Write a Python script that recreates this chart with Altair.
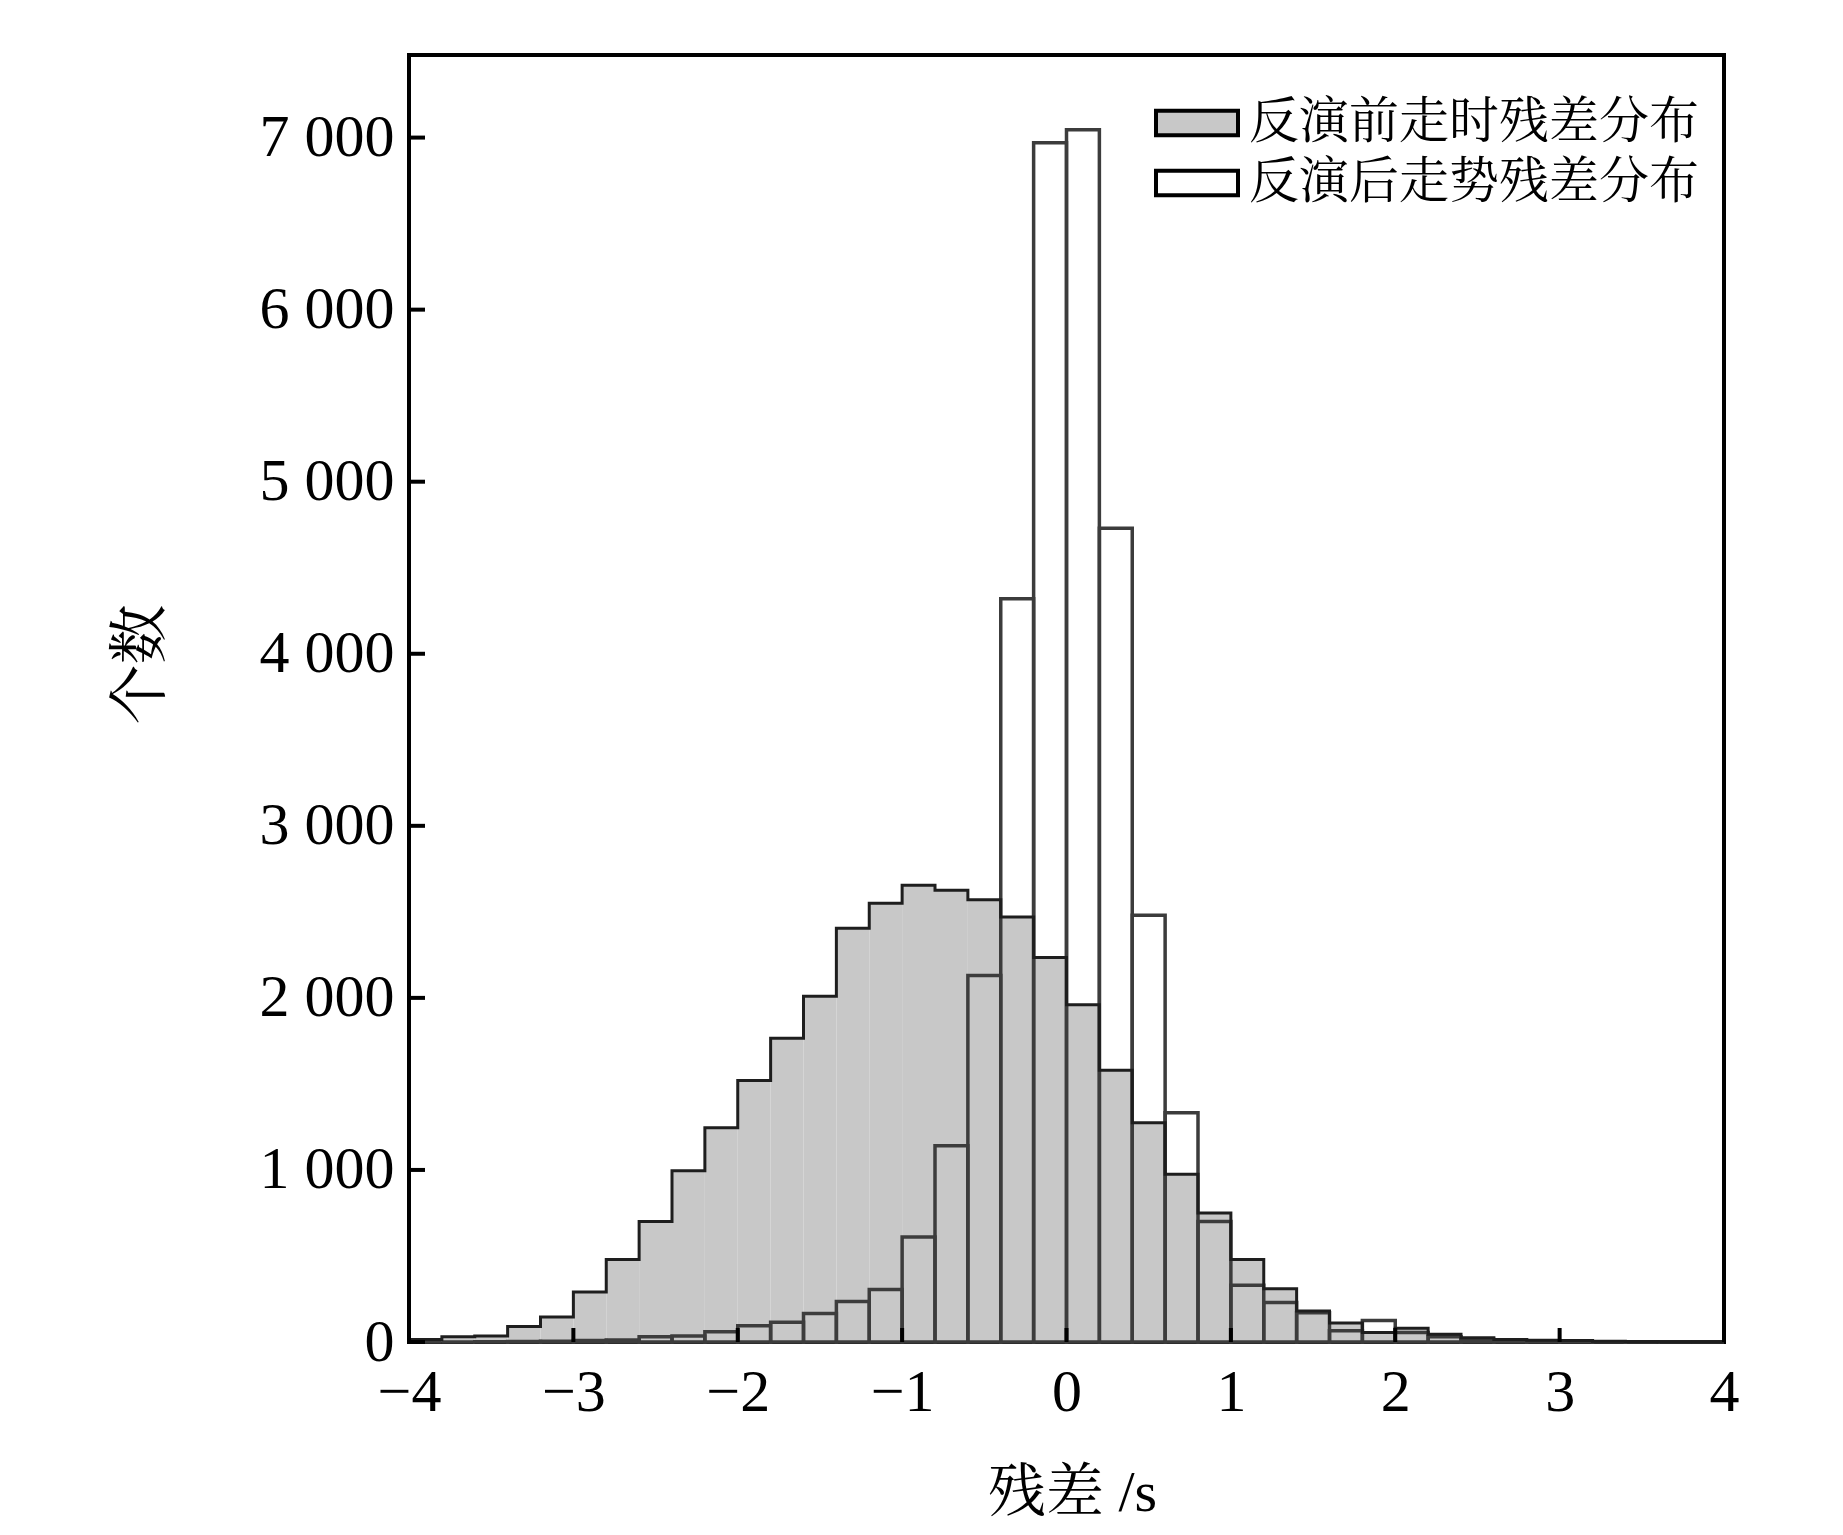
import altair as alt
import pandas as pd

# bin edges (s)
bin_start = [-4.0, -3.8, -3.6, -3.4, -3.2, -3.0, -2.8, -2.6, -2.4, -2.2,
             -2.0, -1.8, -1.6, -1.4, -1.2, -1.0, -0.8, -0.6, -0.4, -0.2,
             0.0, 0.2, 0.4, 0.6, 0.8, 1.0, 1.2, 1.4, 1.6, 1.8,
             2.0, 2.2, 2.4, 2.6, 2.8, 3.0, 3.2, 3.4, 3.6, 3.8]
bin_end = [-3.8, -3.6, -3.4, -3.2, -3.0, -2.8, -2.6, -2.4, -2.2, -2.0,
           -1.8, -1.6, -1.4, -1.2, -1.0, -0.8, -0.6, -0.4, -0.2, 0.0,
           0.2, 0.4, 0.6, 0.8, 1.0, 1.2, 1.4, 1.6, 1.8, 2.0,
           2.2, 2.4, 2.6, 2.8, 3.0, 3.2, 3.4, 3.6, 3.8, 4.0]

# counts before inversion (grey)
before = [15, 30, 35, 90, 145, 290, 480, 700, 995, 1245,
          1520, 1765, 2010, 2405, 2550, 2655, 2625, 2570, 2470, 2235,
          1960, 1580, 1275, 975, 750, 480, 310, 180, 110, 55,
          80, 45, 25, 15, 10, 8, 5, 3, 2, 1]
# counts after inversion (white)
after = [0, 0, 2, 3, 5, 8, 12, 30, 35, 60,
         95, 115, 165, 235, 305, 610, 1140, 2130, 4320, 6970,
         7045, 4730, 2480, 1333, 700, 330, 230, 170, 65, 125,
         55, 30, 15, 8, 5, 4, 2, 1, 0, 0]

label_before = "反演前走时残差分布"
label_after = "反演后走势残差分布"

x_ticks = [-4, -3, -2, -1, 0, 1, 2, 3, 4]
y_ticks = [0, 1000, 2000, 3000, 4000, 5000, 6000, 7000]

W, H = 1315, 1287
SERIF = "'Liberation Serif', 'Times New Roman', 'Noto Serif CJK SC', 'Noto Sans CJK SC'"
CJK = "'Noto Serif CJK SC', 'Noto Sans CJK SC'"

long_rows = []
for a, b, v1, v2 in zip(bin_start, bin_end, before, after):
    long_rows.append({"x0": a, "x1": b, "series": label_before, "count": v1})
    long_rows.append({"x0": a, "x1": b, "series": label_after, "count": v2})
long_df = pd.DataFrame(long_rows)

step_df = pd.DataFrame({"x": bin_start + [bin_end[-1]], "count": before + [before[-1]]})
xt_df = pd.DataFrame({"v": x_ticks})
yt_df = pd.DataFrame({"v": y_ticks})

xscale = alt.Scale(domain=[-4, 4], nice=False, zero=False)
yscale = alt.Scale(domain=[0, 7480], nice=False)

xaxis = alt.Axis(values=x_ticks, domain=False, ticks=False, grid=False,
                 labelFont=SERIF, labelFontSize=60, labelColor="black",
                 labelPadding=21, labelFlush=False,
                 titleFont=SERIF, titleFontSize=58, titleFontWeight="normal",
                 titleColor="black", titleX=663, titleY=151, titleBaseline="middle")
yaxis = alt.Axis(values=y_ticks, domain=False, ticks=False, grid=False,
                 labelFont=SERIF, labelFontSize=60, labelColor="black",
                 labelPadding=15,
                 labelExpr="datum.value >= 1000 ? floor(datum.value/1000) + ' 000' : '' + datum.value",
                 titleFont=SERIF, titleFontSize=60, titleFontWeight="normal",
                 titleColor="black", titleX=-268, titleY=609, titleBaseline="middle",
                 titleAngle=270)

XT = "残差 /s"
YT = "个数"


def X(field):
    return alt.X(field, type="quantitative", scale=xscale, axis=xaxis, title=XT)


def Y(field):
    return alt.Y(field, type="quantitative", scale=yscale, axis=yaxis, title=YT)


fill_scale = alt.Scale(domain=[label_before, label_after], range=["#c8c8c8", "#ffffff"])
legend = alt.Legend(orient="none", legendX=763, legendY=43, title=None,
                    symbolType="M-2,-0.6H2V0.6H-2Z", symbolSize=1681,
                    symbolStrokeColor="black", symbolStrokeWidth=4,
                    symbolOpacity=1,
                    labelFont=CJK, labelFontSize=50, labelColor="black",
                    labelOffset=27, labelLimit=800, rowPadding=10)

base = alt.Chart(long_df)

after_fill = base.transform_filter(alt.datum.series == label_after).mark_rect(strokeWidth=0).encode(
    x=X("x0"), x2="x1", y=Y("count"), y2=alt.datum(0),
    fill=alt.Fill("series:N", scale=fill_scale, legend=legend),
)
before_fill = base.transform_filter(alt.datum.series == label_before).mark_rect(strokeWidth=0).encode(
    x=X("x0"), x2="x1", y=Y("count"), y2=alt.datum(0),
    fill=alt.Fill("series:N", scale=fill_scale, legend=legend),
)
after_outline = base.transform_filter(alt.datum.series == label_after).mark_rect(
    fillOpacity=0, stroke="#3c3c3c", strokeWidth=3.5
).encode(x=X("x0"), x2="x1", y=Y("count"), y2=alt.datum(0))

before_line = alt.Chart(step_df).mark_line(
    interpolate="step-after", color="#1e1e1e", strokeWidth=3
).encode(x=X("x"), y=Y("count"))

x_tick_marks = alt.Chart(xt_df).mark_rule(color="black", strokeWidth=4).encode(
    x=X("v"), y=alt.value(H), y2=alt.value(H - 14)
)
y_tick_marks = alt.Chart(yt_df).mark_rule(color="black", strokeWidth=4).encode(
    y=Y("v"), x=alt.value(0), x2=alt.value(16)
)

chart = alt.layer(
    after_fill, before_fill, after_outline, before_line, x_tick_marks, y_tick_marks
).properties(
    width=W, height=H,
    background="white",
    autosize=alt.AutoSizeParams(type="none"),
    padding={"left": 401, "top": 47, "right": 100, "bottom": 180},
).configure_view(
    stroke="black", strokeWidth=4
)

chart.save("out.html", embed_options={"renderer": "svg", "actions": False})
